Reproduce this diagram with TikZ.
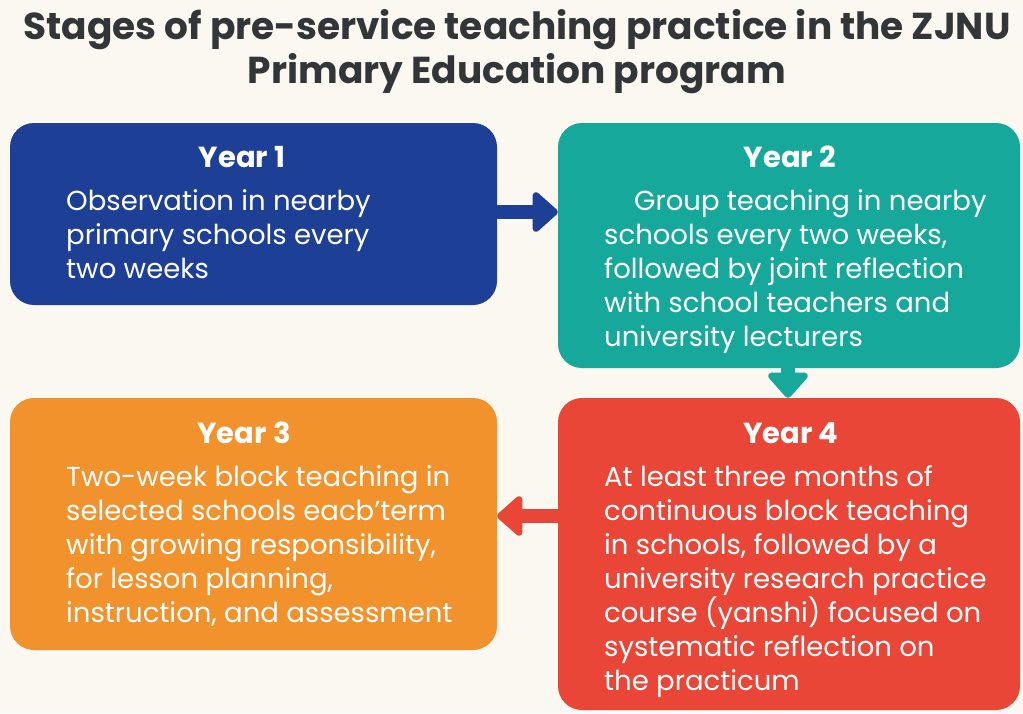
\documentclass[tikz,border=0pt]{standalone}
\usepackage{fontspec}
\setmainfont{Poppins}
\usetikzlibrary{arrows.meta}
\definecolor{bgcream}{HTML}{FBF8F2}
\definecolor{titlegray}{HTML}{333638}
\definecolor{yearblue}{HTML}{1E3F96}
\definecolor{yearteal}{HTML}{17A89C}
\definecolor{yearorange}{HTML}{F1922C}
\definecolor{yearred}{HTML}{E94638}
\tikzset{
  x=1pt, y=-1pt,
  yeartitle/.style={text=white, font=\fontsize{29}{34}\selectfont\bfseries, anchor=center},
  yeartext/.style={text=white, font=\fontsize{27.5}{34}\selectfont, anchor=north west, align=left, inner sep=0pt},
  flow/.style={line width=14pt, -{Triangle[width=46pt, length=27pt, round]}},
}
\begin{document}
\begin{tikzpicture}
\useasboundingbox (0,0) rectangle (1023,713);
\clip (0,0) rectangle (1023,713);
\fill[bgcream] (0,0) rectangle (1023,713);

% title
\node[text=titlegray, font=\fontsize{37.5}{44}\selectfont\bfseries, align=center] (title) at (517,52)
  {Stages of pre-service teaching practice in the ZJNU\\Primary Education program};

% stage boxes
\fill[yearblue, rounded corners=24pt] (10,123) rectangle (497,305);
\fill[yearteal, rounded corners=24pt] (558,123) rectangle (1020,368);
\fill[yearorange, rounded corners=24pt] (10,398) rectangle (497,650);
\fill[yearred, rounded corners=24pt] (558,398) rectangle (1020,710);

\node[inner sep=0pt, minimum width=487pt, minimum height=182pt] (y1) at (253.5,214) {};
\node[inner sep=0pt, minimum width=462pt, minimum height=245pt] (y2) at (789,245.5) {};
\node[inner sep=0pt, minimum width=487pt, minimum height=252pt] (y3) at (253.5,524) {};
\node[inner sep=0pt, minimum width=462pt, minimum height=312pt] (y4) at (789,554) {};

% headings
\node[yeartitle] (h1) at (242,157) {Year 1};
\node[yeartitle] (h2) at (790,157) {Year 2};
\node[yeartitle] (h3) at (244,433) {Year 3};
\node[yeartitle] (h4) at (791,433) {Year 4};

% descriptions
\node[yeartext] (t1) at (66,189) {Observation in nearby\\primary schools every\\two weeks};
\node[yeartext] (t2) at (604,189) {\hspace*{30pt}Group teaching in nearby\\schools every two weeks,\\followed by joint reflection\\with school teachers and\\university lecturers};
\node[yeartext] (t3) at (66,465) {Two-week block teaching in\\selected schools eacb’term\\with growing responsibility,\\for lesson planning,\\instruction, and assessment};
\node[yeartext] (t4) at (604,465) {At least three months of\\continuous block teaching\\in schools, followed by a\\university research practice\\course (yanshi) focused on\\systematic reflection on\\the practicum};

% connectors
\coordinate (a1) at (y1.east |- 0,212);
\coordinate (a2) at (788,0);
\coordinate (a3) at (y4.west |- 0,516);
\draw[flow, yearblue] (a1) -- (a1 -| y2.west);
\draw[flow, yearteal] (a2 |- y2.south) -- (a2 |- y4.north);
\draw[flow, yearred] (a3) -- (a3 -| y3.east);
\end{tikzpicture}
\end{document}
